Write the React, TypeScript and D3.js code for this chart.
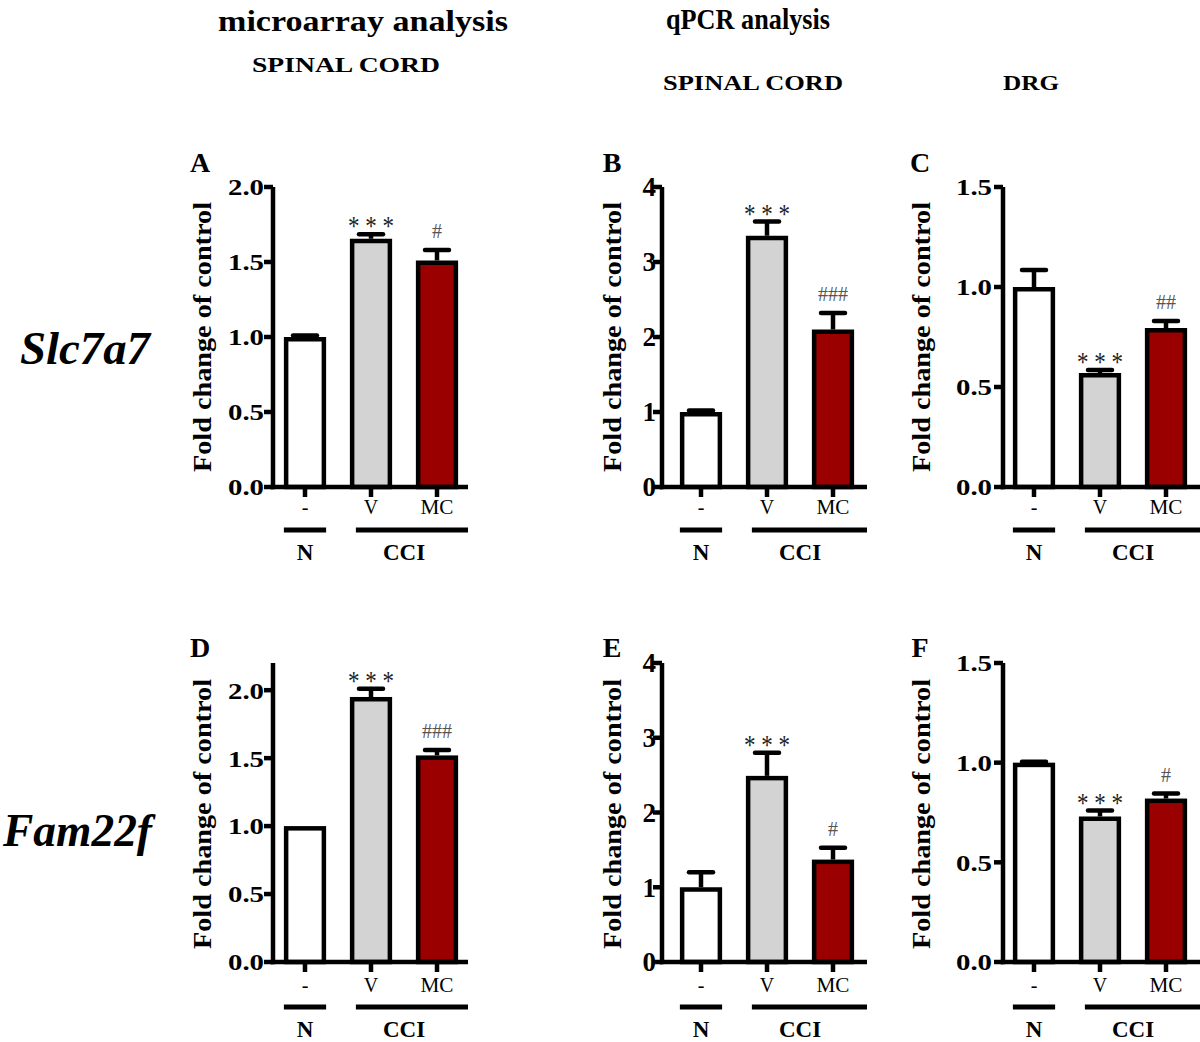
import React, { useEffect, useRef } from 'react';
import * as d3 from 'd3';

// categories / groups
const categories = ['-', 'V', 'MC'];
const groupLabels = ['N', 'CCI'];
const barColors = ['#ffffff', '#d3d3d3', '#9a0000'];

// values (mean, SEM)
const meanA = [1.0, 1.655, 1.51];
const semA = [0.01, 0.03, 0.07];
const meanB = [1.0, 3.35, 2.1];
const semB = [0.02, 0.19, 0.22];
const meanC = [1.0, 0.57, 0.795];
const semC = [0.085, 0.015, 0.035];
const meanD = [1.0, 1.95, 1.52];
const semD = [0.0, 0.06, 0.04];
const meanE = [1.0, 2.49, 1.37];
const semE = [0.2, 0.31, 0.16];
const meanF = [1.0, 0.73, 0.82];
const semF = [0.005, 0.03, 0.025];

// significance marks
const marksA = ['', '* * *', '#'];
const marksB = ['', '* * *', '###'];
const marksC = ['', '* * *', '##'];
const marksD = ['', '* * *', '###'];
const marksE = ['', '* * *', '#'];
const marksF = ['', '* * *', '#'];

// tick labels
const ticksMicro = [0, 0.5, 1.0, 1.5, 2.0];
const ticksQpcr = [0, 1, 2, 3, 4];
const ticksDrg = [0, 0.5, 1.0, 1.5];

const FONT = '"Liberation Serif", "Times New Roman", Times, serif';

const panels = [
  { letter: 'A', mean: meanA, sem: semA, marks: marksA, ticks: ticksMicro, yMax: 2.0, fmt: '.1f', col: 0, row: 0 },
  { letter: 'B', mean: meanB, sem: semB, marks: marksB, ticks: ticksQpcr, yMax: 4, fmt: 'd', col: 1, row: 0 },
  { letter: 'C', mean: meanC, sem: semC, marks: marksC, ticks: ticksDrg, yMax: 1.5, fmt: '.1f', col: 2, row: 0 },
  { letter: 'D', mean: meanD, sem: semD, marks: marksD, ticks: ticksMicro, yMax: 2.2, fmt: '.1f', col: 0, row: 1 },
  { letter: 'E', mean: meanE, sem: semE, marks: marksE, ticks: ticksQpcr, yMax: 4, fmt: 'd', col: 1, row: 1 },
  { letter: 'F', mean: meanF, sem: semF, marks: marksF, ticks: ticksDrg, yMax: 1.5, fmt: '.1f', col: 2, row: 1 },
];

// layout
const cols = [
  { axisX: 273, bandX: 272, axisEnd: 468, labelX: 202, letterX: 200, tickRight: 264 },
  { axisX: 662, bandX: 668, axisEnd: 867, labelX: 612, letterX: 612, tickRight: 656 },
  { axisX: 1003, bandX: 1001, axisEnd: 1202, labelX: 921, letterX: 920, tickRight: 992 },
];
const rows = [
  { base: 487, top: 187, letterY: 172, labelY: 337, catY: 514, lineY: 530, groupY: 560 },
  { base: 962, top: 663, letterY: 657, labelY: 814, catY: 992, lineY: 1007, groupY: 1037 },
];

const STEP = 66;
const SW = 4.5;

const App = () => {
  const svgRef = useRef<SVGSVGElement>(null);

  useEffect(() => {
    const svg = d3.select(svgRef.current);
    svg.selectAll('*').remove();

    svg.append('rect').attr('width', 1200).attr('height', 1042).attr('fill', '#fff');

    // column titles
    const title = (txt, x, y, size, weight, len) =>
      svg.append('text')
        .attr('x', x).attr('y', y)
        .attr('font-family', FONT)
        .attr('font-size', size)
        .attr('font-weight', weight)
        .attr('textLength', len)
        .attr('lengthAdjust', 'spacingAndGlyphs')
        .text(txt);

    title('microarray analysis', 218, 31, 30, 'bold', 290);
    title('SPINAL CORD', 252, 72, 21, 'bold', 188);
    title('qPCR analysis', 666, 29, 30, 'bold', 164);
    title('SPINAL CORD', 663, 90, 21, 'bold', 180);
    title('DRG', 1003, 90, 21, 'bold', 56);

    // gene labels
    svg.append('text').attr('x', 20).attr('y', 364)
      .attr('font-family', FONT).attr('font-size', 46)
      .attr('font-weight', 'bold').attr('font-style', 'italic')
      .attr('textLength', 130).attr('lengthAdjust', 'spacingAndGlyphs')
      .text('Slc7a7');
    svg.append('text').attr('x', 3).attr('y', 846)
      .attr('font-family', FONT).attr('font-size', 46)
      .attr('font-weight', 'bold').attr('font-style', 'italic')
      .attr('textLength', 149).attr('lengthAdjust', 'spacingAndGlyphs')
      .text('Fam22f');

    panels.forEach((p) => {
      const c = cols[p.col];
      const r = rows[p.row];
      const g = svg.append('g');

      const y = d3.scaleLinear().domain([0, p.yMax]).range([r.base, r.top]);
      const x = d3.scaleBand()
        .domain(categories)
        .range([c.bandX, c.bandX + 3 * STEP])
        .paddingInner(0.36)
        .paddingOuter(0.18);
      const bw = x.bandwidth();
      const cx = (i) => x(categories[i]) + bw / 2;

      // bars
      g.selectAll('rect.bar')
        .data(p.mean)
        .join('rect')
        .attr('x', (_, i) => x(categories[i]) + SW / 2)
        .attr('y', (d) => y(d) + SW / 2)
        .attr('width', bw - SW)
        .attr('height', (d) => y(0) - y(d) - SW / 2)
        .attr('fill', (_, i) => barColors[i])
        .attr('stroke', '#000')
        .attr('stroke-width', SW);

      // error bars (upper only)
      p.mean.forEach((m, i) => {
        if (p.sem[i] <= 0) return;
        const yt = y(m + p.sem[i]);
        g.append('line')
          .attr('x1', cx(i)).attr('x2', cx(i))
          .attr('y1', y(m)).attr('y2', yt)
          .attr('stroke', '#000').attr('stroke-width', SW);
        g.append('line')
          .attr('x1', cx(i) - 12).attr('x2', cx(i) + 12)
          .attr('y1', yt).attr('y2', yt)
          .attr('stroke', '#000').attr('stroke-width', SW)
          .attr('stroke-linecap', 'round');
      });

      // significance marks
      p.marks.forEach((mk, i) => {
        if (!mk) return;
        const yt = y(p.mean[i] + p.sem[i]);
        const star = mk.includes('*');
        g.append('text')
          .attr('x', cx(i))
          .attr('y', star ? yt + 1 : yt - 12)
          .attr('text-anchor', 'middle')
          .attr('font-family', FONT)
          .attr('font-size', star ? 28 : 21)
          .attr('fill', star ? '#222' : '#555')
          .attr('textLength', star ? 46 : mk.length * 10)
          .attr('lengthAdjust', 'spacingAndGlyphs')
          .text(mk);
      });

      // y axis
      g.append('line')
        .attr('x1', c.axisX).attr('x2', c.axisX)
        .attr('y1', y(0) + SW / 2).attr('y2', y(p.yMax))
        .attr('stroke', '#000').attr('stroke-width', SW);
      const fmt = d3.format(p.fmt);
      p.ticks.forEach((t) => {
        g.append('line')
          .attr('x1', c.axisX - 9).attr('x2', c.axisX)
          .attr('y1', y(t)).attr('y2', y(t))
          .attr('stroke', '#000').attr('stroke-width', SW);
        const label = fmt(t);
        const txt = g.append('text')
          .attr('x', c.tickRight)
          .attr('y', y(t))
          .attr('dy', '0.35em')
          .attr('text-anchor', 'end')
          .attr('font-family', FONT)
          .attr('font-size', label.length > 1 ? 24 : 27)
          .attr('font-weight', 'bold')
          .text(label);
        if (label.length > 1) txt.attr('textLength', 36).attr('lengthAdjust', 'spacingAndGlyphs');
      });

      // y axis title
      g.append('text')
        .attr('transform', `translate(${c.labelX},${r.labelY}) rotate(-90)`)
        .attr('dy', '0.35em')
        .attr('text-anchor', 'middle')
        .attr('font-family', FONT)
        .attr('font-size', 26)
        .attr('font-weight', 'bold')
        .attr('textLength', 270)
        .attr('lengthAdjust', 'spacingAndGlyphs')
        .text('Fold change of control');

      // x axis
      g.append('line')
        .attr('x1', c.axisX - SW / 2).attr('x2', c.axisEnd)
        .attr('y1', y(0)).attr('y2', y(0))
        .attr('stroke', '#000').attr('stroke-width', SW);
      categories.forEach((cat, i) => {
        g.append('line')
          .attr('x1', cx(i)).attr('x2', cx(i))
          .attr('y1', y(0)).attr('y2', y(0) + 10)
          .attr('stroke', '#000').attr('stroke-width', SW);
        const t = g.append('text')
          .attr('x', cx(i)).attr('y', r.catY)
          .attr('text-anchor', 'middle')
          .attr('font-family', FONT)
          .attr('font-size', 20)
          .text(cat);
        if (cat === 'MC') t.attr('textLength', 33).attr('lengthAdjust', 'spacingAndGlyphs');
      });

      // group lines and labels
      const nX1 = x('-');
      const nX2 = x('-') + bw;
      const cX1 = x('V') + 6;
      const cX2 = c.axisEnd;
      [[nX1, nX2], [cX1, cX2]].forEach(([a, b], i) => {
        g.append('line')
          .attr('x1', a).attr('x2', b)
          .attr('y1', r.lineY).attr('y2', r.lineY)
          .attr('stroke', '#000').attr('stroke-width', 5);
        g.append('text')
          .attr('x', i === 0 ? (a + b) / 2 : (x('V') + x('MC') + bw) / 2)
          .attr('y', r.groupY)
          .attr('text-anchor', 'middle')
          .attr('font-family', FONT)
          .attr('font-size', 23)
          .attr('font-weight', 'bold')
          .text(groupLabels[i]);
      });

      // panel letter
      g.append('text')
        .attr('x', c.letterX).attr('y', r.letterY)
        .attr('text-anchor', 'middle')
        .attr('font-family', FONT)
        .attr('font-size', 28)
        .attr('font-weight', 'bold')
        .text(p.letter);
    });
  }, []);

  return (
    <svg
      ref={svgRef}
      width={1200}
      height={1042}
      style={{ position: 'absolute', left: 0, top: 0, display: 'block' }}
    />
  );
};

export default App;
